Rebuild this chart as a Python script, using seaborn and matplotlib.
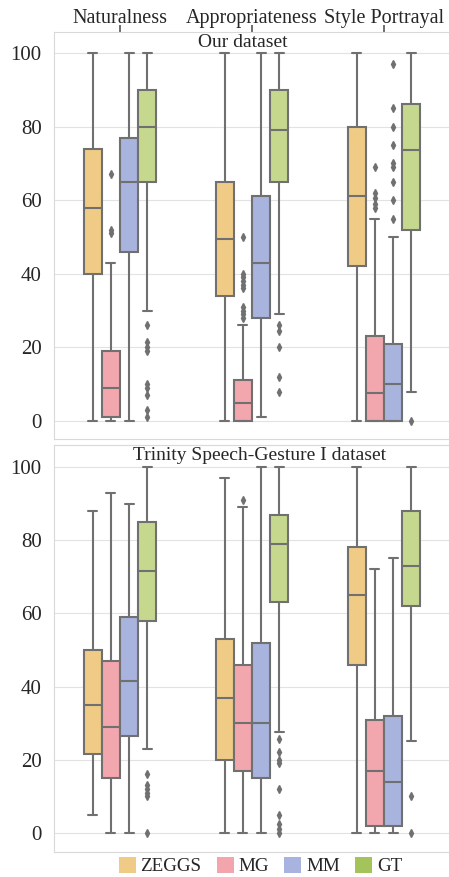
import numpy as np
import pandas as pd
import seaborn as sns
import matplotlib.pyplot as plt
from matplotlib.patches import Patch

criteria = ["Naturalness", "Appropriateness", "Style Portrayal"]
models = ["ZEGGS", "MG", "MM", "GT"]
box_colors = ["#EFCB85", "#F2A6AD", "#A8B3DE", "#C5D88E"]
legend_colors = ["#F0CB86", "#F3A5AD", "#A8B3DF", "#A4C35B"]

# lower whisker, Q1, median, Q3, upper whisker -- one row per model (ZEGGS, MG, MM, GT)
ours_naturalness = [[0, 40, 58, 74, 100], [0, 1, 9, 19, 43], [0, 46, 65, 77, 100], [30, 65, 80, 90, 100]]
ours_appropriateness = [[0, 34, 49.5, 65, 100], [0, 0, 5, 11, 26], [1, 28, 43, 61, 100], [29, 65, 79, 90, 100]]
ours_style = [[0, 42, 61, 80, 100], [0, 0, 7.5, 23, 55], [0, 0, 10, 21, 50], [8, 52, 73.5, 86, 100]]
ours_naturalness_out = [[], [51, 52, 67], [], [1, 3, 7, 9, 10, 19, 20, 21.5, 26]]
ours_appropriateness_out = [[], [28, 29, 30, 31, 36, 37, 38, 39, 40, 50], [], [8, 12, 20, 24.5, 26]]
ours_style_out = [[], [58, 59, 60.5, 62, 69], [55, 60, 65, 69, 70, 75, 80, 85, 97], [0]]

trinity_naturalness = [[5, 21.5, 35, 50, 88], [0, 15, 29, 47, 93], [0, 26.5, 41.5, 59, 90], [23, 58, 71.5, 85, 100]]
trinity_appropriateness = [[0, 20, 37, 53, 97], [0, 17, 30, 46, 89], [0, 15, 30, 52, 100], [27.5, 63, 79, 87, 100]]
trinity_style = [[0, 46, 65, 78, 100], [0, 2, 17, 31, 72], [0, 2, 14, 32, 75], [25, 62, 73, 88, 100]]
trinity_naturalness_out = [[], [], [], [0, 10, 11, 12, 13, 16]]
trinity_appropriateness_out = [[], [91], [], [0, 1, 2.5, 5, 12, 19, 20, 22, 25.7]]
trinity_style_out = [[], [], [], [0, 10]]


def sample(stats, outliers, k=12):
    # a set of scores whose box-plot statistics give back exactly these stats
    lo, q1, med, q3, hi = stats
    below = sorted(v for v in outliers if v < q1)
    above = sorted(v for v in outliers if v > q3)
    return (below + [lo] + [q1] * (k - len(below) - 1) + [q1] * k + [med] * k
            + [q3] * (k - len(above)) + [hi] + above)


def to_frame(boxes, outs):
    rows = []
    for crit, stats_list, out_list in zip(criteria, boxes, outs):
        for model, stats, out in zip(models, stats_list, out_list):
            for v in sample(stats, out):
                rows.append((crit, model, v))
    return pd.DataFrame(rows, columns=["criterion", "model", "score"])


sns.set_style("whitegrid", {"axes.edgecolor": "#D9D9D9", "grid.color": "#E2E2E2"})
plt.rcParams["font.family"] = ["Liberation Serif", "DejaVu Serif"]

fig = plt.figure(figsize=(4.49, 8.77), dpi=100)
W, H = 449, 877
ax_top = fig.add_axes([54 / W, 1 - 439 / H, 396 / W, 407 / H])
ax_bot = fig.add_axes([54 / W, 1 - 852 / H, 396 / W, 407 / H])

panels = [
    (ax_top, to_frame([ours_naturalness, ours_appropriateness, ours_style],
                      [ours_naturalness_out, ours_appropriateness_out, ours_style_out]),
     "Our dataset", 0.478, (-4.9, 105.7)),
    (ax_bot, to_frame([trinity_naturalness, trinity_appropriateness, trinity_style],
                      [trinity_naturalness_out, trinity_appropriateness_out, trinity_style_out]),
     "Trinity Speech-Gesture I dataset", 0.519, (-5.2, 106)),
]

line_grey = "#707070"
for ax, df, title, tx, ylim in panels:
    sns.boxplot(data=df, x="criterion", y="score", hue="model", order=criteria,
                hue_order=models, palette=box_colors, width=0.55, saturation=1,
                linecolor=line_grey, linewidth=1.5, legend=False, ax=ax,
                flierprops={"marker": "d", "markersize": 4, "markerfacecolor": line_grey,
                            "markeredgecolor": line_grey})
    ax.set_ylim(*ylim)
    ax.set_xlim(-0.5, 2.5)
    ax.set_yticks([0, 20, 40, 60, 80, 100])
    ax.tick_params(axis="y", labelsize=15, pad=9, length=0)
    ax.set_xlabel("")
    ax.set_ylabel("")
    ax.grid(axis="x", visible=False)
    ax.text(tx, 0.973, title, transform=ax.transAxes, ha="center", va="center", fontsize=14)

ax_top.xaxis.tick_top()
ax_top.tick_params(axis="x", labelsize=14.5, length=5, width=1.2, color="#555555", pad=-2)
ax_bot.set_xticklabels([])
ax_bot.tick_params(axis="x", length=0)

handles = [Patch(facecolor=c, edgecolor="none", label=m) for c, m in zip(legend_colors, models)]
fig.legend(handles=handles, loc="center", bbox_to_anchor=(0.58, 0.0125), ncol=4, frameon=False,
           fontsize=13.7, handlelength=0.9, handleheight=0.9, handletextpad=0.25, columnspacing=0.8)

fig.savefig("out.png", dpi=100)
